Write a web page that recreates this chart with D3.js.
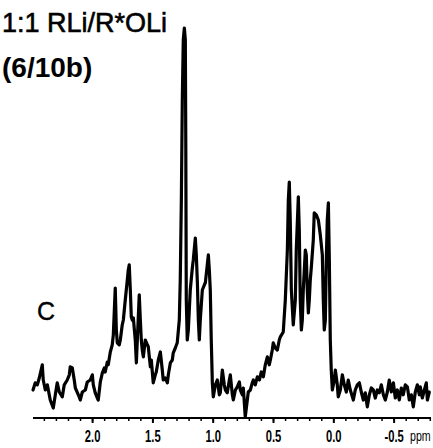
<!DOCTYPE html>
<html>
<head>
<meta charset="utf-8">
<script src="https://cdn.jsdelivr.net/npm/d3@7"></script>
<style>
  html, body { margin: 0; padding: 0; background: #fff; }
  svg { display: block; }
</style>
</head>
<body>
<svg id="chart" width="433" height="448"></svg>
<script>
// chemical shift (ppm) and relative intensity
const shift = [
  2.490, 2.471, 2.454, 2.438, 2.413, 2.405, 2.388, 2.371, 2.347, 2.322,
  2.305, 2.289, 2.272, 2.247, 2.231, 2.206, 2.189, 2.181, 2.164, 2.148,
  2.139, 2.114, 2.098, 2.081, 2.056, 2.040, 2.015, 1.998, 1.990, 1.974,
  1.957, 1.949, 1.932, 1.915, 1.899, 1.891, 1.874, 1.866, 1.849, 1.833,
  1.824, 1.808, 1.799, 1.791, 1.775, 1.766, 1.750, 1.741, 1.725, 1.708,
  1.700, 1.692, 1.683, 1.675, 1.667, 1.658, 1.642, 1.633, 1.625, 1.609,
  1.600, 1.592, 1.584, 1.575, 1.559, 1.542, 1.534, 1.517, 1.509, 1.493,
  1.476, 1.468, 1.451, 1.434, 1.418, 1.410, 1.393, 1.376, 1.368, 1.351,
  1.335, 1.327, 1.310, 1.294, 1.277, 1.269, 1.260, 1.252, 1.244, 1.235,
  1.227, 1.223, 1.219, 1.211, 1.202, 1.186, 1.169, 1.161, 1.144, 1.136,
  1.127, 1.119, 1.111, 1.103, 1.086, 1.069, 1.061, 1.045, 1.036, 1.028,
  1.020, 1.012, 1.003, 0.995, 0.978, 0.962, 0.945, 0.937, 0.920, 0.904,
  0.895, 0.879, 0.862, 0.854, 0.837, 0.829, 0.812, 0.796, 0.779, 0.771,
  0.754, 0.746, 0.730, 0.713, 0.705, 0.688, 0.672, 0.663, 0.647, 0.630,
  0.613, 0.597, 0.580, 0.564, 0.547, 0.531, 0.522, 0.506, 0.498, 0.481,
  0.464, 0.448, 0.439, 0.415, 0.398, 0.381, 0.373, 0.365, 0.357, 0.348,
  0.332, 0.315, 0.307, 0.290, 0.282, 0.274, 0.265, 0.257, 0.249, 0.232,
  0.224, 0.216, 0.207, 0.199, 0.191, 0.182, 0.166, 0.158, 0.141, 0.124,
  0.108, 0.091, 0.083, 0.075, 0.066, 0.058, 0.050, 0.041, 0.033, 0.025,
  0.017, 0.008, -0.008, -0.017, -0.033, -0.041, -0.058, -0.075, -0.091, -0.108,
  -0.124, -0.141, -0.158, -0.166, -0.182, -0.199, -0.216, -0.232, -0.249, -0.265,
  -0.282, -0.299, -0.315, -0.332, -0.348, -0.365, -0.381, -0.398, -0.415, -0.431,
  -0.448, -0.464, -0.481, -0.498, -0.514, -0.531, -0.547, -0.564, -0.580, -0.597,
  -0.614, -0.630, -0.647, -0.663, -0.680, -0.697, -0.713, -0.721, -0.738, -0.755,
  -0.771, -0.780, -0.796
];
const intensity = [
  7.0, 8.8, 8.3, 10.0, 13.3, 9.5, 7.0, 8.3, 4.5, 2.5,
  5.8, 8.8, 6.5, 5.3, 8.3, 9.5, 10.8, 12.8, 12.5, 9.5,
  7.5, 5.8, 4.5, 6.5, 7.0, 9.0, 9.5, 10.8, 8.3, 6.3,
  5.0, 4.5, 9.0, 11.3, 12.5, 11.5, 14.0, 13.3, 16.5, 18.3,
  20.8, 32.5, 22.0, 18.8, 18.3, 19.5, 23.3, 24.5, 29.5, 34.5,
  37.0, 38.3, 32.0, 25.3, 24.5, 25.0, 19.5, 13.8, 19.5, 30.8,
  24.5, 19.5, 17.0, 15.3, 19.5, 18.3, 17.8, 12.8, 14.5, 8.8,
  10.8, 11.5, 14.5, 16.5, 12.0, 9.5, 10.0, 8.8, 10.8, 13.8,
  14.5, 16.3, 17.5, 18.8, 24.5, 34.5, 54.5, 79.5, 94.5, 97.5,
  94.5, 67.0, 29.5, 19.5, 22.0, 32.0, 37.5, 39.5, 45.0, 40.8,
  33.8, 24.5, 19.5, 24.5, 32.0, 33.3, 33.8, 38.3, 40.8, 37.0,
  32.0, 19.5, 8.8, 5.3, 8.3, 9.5, 5.8, 6.3, 12.0, 8.3,
  7.0, 6.3, 9.5, 10.8, 5.8, 4.5, 7.0, 7.8, 9.0, 7.0,
  5.8, 7.5, 0.3, 4.5, 6.5, 7.0, 8.8, 9.5, 8.3, 10.3,
  9.5, 11.5, 10.3, 13.3, 15.3, 13.3, 14.5, 17.0, 18.8, 17.5,
  17.0, 19.5, 20.3, 21.5, 29.5, 42.0, 54.5, 59.0, 49.5, 32.0,
  23.3, 29.5, 42.0, 55.3, 47.0, 29.5, 22.0, 24.5, 32.0, 42.0,
  40.8, 32.0, 26.3, 29.5, 34.5, 37.8, 44.5, 51.3, 50.8, 49.5,
  45.8, 40.8, 29.5, 22.0, 24.5, 39.5, 49.5, 53.8, 39.5, 19.5,
  12.0, 7.0, 9.5, 12.0, 8.3, 5.3, 7.0, 10.8, 8.3, 6.5,
  9.5, 7.0, 5.3, 4.5, 7.0, 8.3, 8.8, 6.5, 4.5, 6.3,
  2.8, 5.8, 7.5, 7.0, 5.0, 7.0, 6.3, 8.3, 5.8, 4.5,
  6.5, 9.5, 6.5, 8.8, 5.0, 7.0, 4.5, 7.5, 5.8, 8.3,
  7.8, 4.5, 5.8, 2.8, 6.5, 8.3, 5.8, 7.8, 5.0, 7.0,
  8.8, 4.5, 6.5
];
const shiftDomain = [2.49, -0.81];
const majorTicks = [2.0, 1.5, 1.0, 0.5, 0.0, -0.5];
const tickLabels = ["2.0", "1.5", "1.0", "0.5", "0.0", "-0.5"];
const titleLines = ["1:1 RLi/R*OLi", "(6/10b)"];
const panelLabel = "C";
const unitLabel = "ppm";

const FONT = "'Liberation Sans', Arial, Helvetica, sans-serif";
const svg = d3.select("#chart");
const x = d3.scaleLinear().domain(shiftDomain).range([33, 431]);
const y = d3.scaleLinear().domain([0, 100]).range([418, 18]);

const points = shift.map((s, i) => [s, intensity[i]]);

// spectrum trace
svg.append("path")
  .datum(points)
  .attr("fill", "none")
  .attr("stroke", "#000")
  .attr("stroke-width", 3.2)
  .attr("stroke-linejoin", "round")
  .attr("stroke-linecap", "round")
  .attr("d", d3.line().x(d => x(d[0])).y(d => y(d[1])));

// axis
const axisY = 418;
const minorTicks = d3.range(24, -9, -1).map(v => v / 10);
const minorAxis = d3.axisBottom(x).tickValues(minorTicks).tickSize(3).tickFormat("");
const majorAxis = d3.axisBottom(x).tickValues(majorTicks).tickSize(5)
  .tickFormat((d, i) => tickLabels[i]).tickPadding(7);

const gMinor = svg.append("g").attr("transform", `translate(0,${axisY})`).call(minorAxis);
gMinor.select(".domain").remove();
gMinor.selectAll("line").attr("stroke", "#000").attr("stroke-width", 1.5);

const gMajor = svg.append("g").attr("transform", `translate(0,${axisY})`).call(majorAxis);
gMajor.select(".domain").remove();
gMajor.selectAll("line").attr("stroke", "#000").attr("stroke-width", 2);
gMajor.selectAll("text")
  .attr("fill", "#000")
  .attr("transform", "scale(0.66,1)")
  .style("font-family", FONT)
  .style("font-weight", "bold")
  .style("font-size", "17px");

svg.append("line")
  .attr("x1", x.range()[0]).attr("x2", x.range()[1])
  .attr("y1", axisY).attr("y2", axisY)
  .attr("stroke", "#000").attr("stroke-width", 2);

svg.append("text")
  .attr("transform", "translate(410,441) scale(0.76,1)")
  .style("font-family", FONT)
  .style("font-size", "14px")
  .text(unitLabel);

// titles
svg.append("text")
  .attr("x", 2).attr("y", 32)
  .attr("stroke", "#000").attr("stroke-width", 0.6)
  .style("font-family", FONT)
  .style("font-size", "27px")
  .text(titleLines[0]);
svg.append("text")
  .attr("x", 2).attr("y", 77)
  .style("font-family", FONT)
  .style("font-weight", "bold")
  .style("font-size", "28px")
  .text(titleLines[1]);

svg.append("text")
  .attr("x", 37).attr("y", 320)
  .attr("stroke", "#000").attr("stroke-width", 0.4)
  .style("font-family", FONT)
  .style("font-size", "25px")
  .text(panelLabel);
</script>
</body>
</html>
